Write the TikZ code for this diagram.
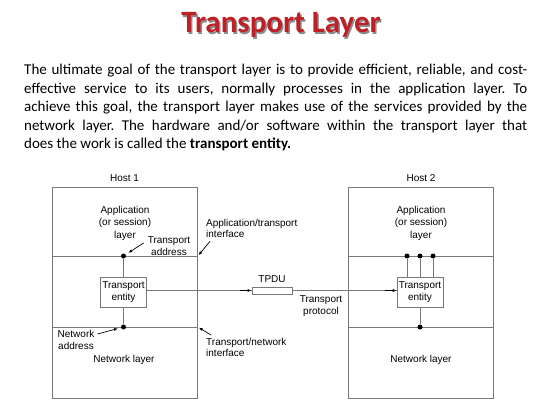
\documentclass[tikz,border=0pt]{standalone}
\usepackage{fontspec}
\setmainfont{Carlito}
\newfontfamily\diagfont{Liberation Sans}
\usetikzlibrary{arrows.meta,positioning}
\definecolor{titlered}{RGB}{190,32,38}
\definecolor{linegray}{RGB}{120,120,120}
\frenchspacing

\begin{document}
\begin{tikzpicture}
    [%%%%%%%%%%%%%%%%%%%%%%%%%%%%%%
        x=1pt,y=-1pt,
        hostbox/.style={rectangle,draw=linegray,line width=0.9pt,minimum width=145pt,minimum height=211pt,anchor=north west,inner sep=0pt},
        layerline/.style={draw=linegray,line width=0.9pt},
        entity/.style={rectangle,draw=linegray,line width=0.8pt,minimum width=46pt,minimum height=30pt,align=center,inner sep=0pt,font=\diagfont\fontsize{10}{12}\selectfont},
        txt/.style={align=center,inner sep=0pt,font=\diagfont\fontsize{10}{12.5}\selectfont},
        ltxt/.style={align=left,inner sep=0pt,font=\diagfont\fontsize{10}{11.5}\selectfont},
        dot/.style={circle,fill=black,inner sep=0pt,minimum size=5pt},
        link/.style={draw=linegray,line width=0.8pt},
        pointer/.style={draw=black,line width=0.7pt,-{Latex[length=4pt,width=3pt]}},
    ]%%%%%%%%%%%%%%%%%%%%%%%%%%%%%%

\useasboundingbox (0,0) rectangle (560,420);

% title and text
\node[anchor=base,text=black!45,font=\fontsize{31}{36}\selectfont\bfseries] (shadow) at (282.5,34.5) {Transport Layer};
\node[anchor=base,text=titlered,font=\fontsize{31}{36}\selectfont\bfseries] (title) at (281,33) {Transport Layer};

\node[anchor=north west,inner sep=0pt,text width=503pt,align=justify,font=\fontsize{15}{18.5}\selectfont] (para) at (24,64)
{The ultimate goal of the transport layer is to provide efficient, reliable, and cost-\linebreak
effective service to its users, normally processes in the application layer. To\linebreak
achieve this goal, the transport layer makes use of the services provided by the\linebreak
network layer. The hardware and/or software within the transport layer that\linebreak
does the work is called the \textbf{transport entity.}};

% hosts
\node[hostbox] (hostA) at (52,187) {};
\node[hostbox] (hostB) at (348,187) {};
\node[txt] (hostAlbl) at (124.5,178) {Host 1};
\node[txt] (hostBlbl) at (421,178) {Host 2};

\foreach \h in {hostA,hostB}{
    \foreach \y in {256,327}
        \draw[layerline] (\h.west |- 0,\y) -- (\h.east |- 0,\y);
}

\node[txt] (appA) at (125,223) {Application\\(or session)\\layer};
\node[txt] (appB) at (421,223) {Application\\(or session)\\layer};
\node[txt] (netA) at (124,360) {Network layer};
\node[txt] (netB) at (421,360) {Network layer};

% transport entities
\node[entity] (entA) at (123.5,292) {Transport\\entity};
\node[entity] (entB) at (420,292) {Transport\\entity};

\node[dot] (tsapA) at (123.5,256) {};
\node[dot] (nsapA) at (123.5,327) {};
\node[dot] (nsapB) at (420,327) {};
\draw[link] (tsapA) -- (entA.north);
\draw[link] (entA.south) -- (nsapA);
\draw[link] (entB.south) -- (nsapB);

\foreach \x [count=\i] in {407,420,433}{
    \node[dot] (tsapB\i) at (\x,256) {};
    \draw[link] (tsapB\i) -- (tsapB\i |- entB.north);
}

% TPDU
\node[rectangle,draw=linegray,line width=0.8pt,minimum width=40pt,minimum height=7pt,inner sep=0pt] (tpdu) at (272,290.5) {};
\node[txt] (tpdulbl) at (272,279) {TPDU};
\draw[link] (entA.east |- tpdu) -- (tpdu.west);
\draw[pointer] ([xshift=-12pt]tpdu.west) -- (tpdu.west);
\draw[link] (tpdu.east) -- (entB.west |- tpdu);
\draw[pointer] ([xshift=-12pt]entB.west |- tpdu) -- (entB.west |- tpdu);
\node[txt] (proto) at (321,306) {Transport\\protocol};

% annotations
\node[txt] (taddr) at (169,246) {Transport\\address};
\draw[pointer,shorten >=3pt] ([xshift=-4pt,yshift=3pt]taddr.west) -- (tsapA);

\node[ltxt,anchor=north west] (aif) at (206,219) {Application/transport\\interface};
\coordinate (aifpt) at (hostA.east |- 0,256);
\draw[pointer,shorten >=1pt] ([xshift=4pt,yshift=-3pt]aif.south west) -- (aifpt);

\node[ltxt,anchor=north west] (nif) at (206,338) {Transport/network\\interface};
\coordinate (nifpt) at (hostA.east |- 0,327);
\draw[pointer,shorten >=1pt] ([xshift=5pt,yshift=3pt]nif.north west) -- (nifpt);

\node[txt] (naddr) at (76,340) {Network\\address};
\draw[pointer,shorten >=3pt] ([xshift=3pt,yshift=-1pt]naddr.north east |- 0,333) -- (nsapA);

\end{tikzpicture}
\end{document}
